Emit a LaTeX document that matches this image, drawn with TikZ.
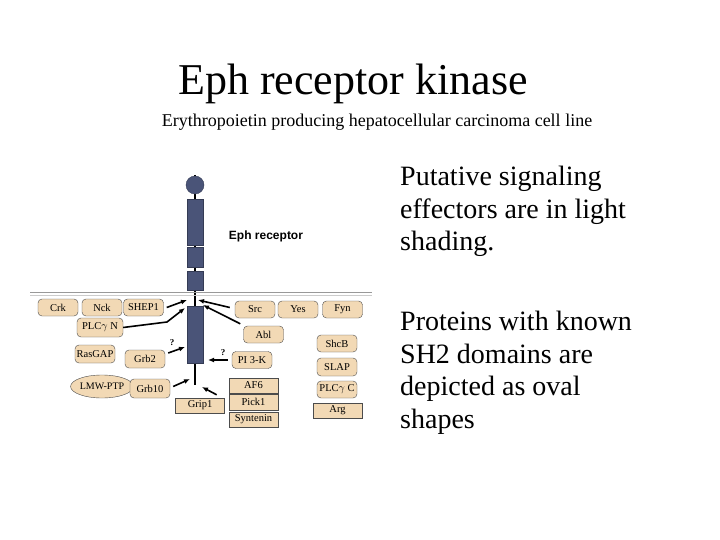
\documentclass[tikz,border=0pt]{standalone}
\usepackage{fontspec}
\setmainfont{Liberation Serif}
\newfontfamily\sansf{Liberation Sans}
\usetikzlibrary{shapes.geometric,arrows.meta}
\definecolor{tan}{HTML}{F2D9B5}
\definecolor{rec}{HTML}{4A5478}
\begin{document}
\begin{tikzpicture}[x=1pt,y=-1pt,
 bx/.style={draw=black!70,fill=tan,rounded corners=4pt,minimum width=40pt,minimum height=17pt,inner sep=0pt,font=\fontsize{10.5}{10.5}\selectfont},
 sq/.style={draw=black!70,fill=tan,minimum width=49pt,minimum height=15pt,inner sep=0pt,font=\fontsize{10.5}{10.5}\selectfont},
 ar/.style={line width=1.6pt,-{Latex[length=6pt,width=5pt]}},
 rp/.style={fill=rec,draw=rec!70!black}]
\useasboundingbox (0,0) rectangle (720,540);
\node[font=\fontsize{44}{46}\selectfont] (title) at (353,84) {Eph receptor kinase};
\node[font=\fontsize{18}{20}\selectfont] (sub) at (377,122) {Erythropoietin producing hepatocellular carcinoma cell line};
% receptor
\draw[line width=1.5pt] (195,175) -- (195,385);
\draw[rp] (195,185) circle (9);
\draw[rp] (187,199) rectangle (203,245);
\draw[rp] (187,247) rectangle (203,267);
\draw[rp] (187,271) rectangle (203,290);
\draw[rp] (187,306) rectangle (203,363);
\draw[black!40] (30,292) -- (372,292);
\draw[black!20] (30,295) -- (372,295);
\node[font=\sansf\bfseries\fontsize{12}{12}\selectfont] (eph) at (266,236) {Eph receptor};
\coordinate (c1) at (187,300); \coordinate (c2) at (185,308); \coordinate (c3) at (198,300);
\coordinate (c4) at (203,305); \coordinate (c5) at (185,347); \coordinate (c6) at (208,360);
\coordinate (c7) at (190,379); \coordinate (c8) at (202,387); \coordinate (k) at (167,322);
% boxes
\node[bx] (crk) at (58,307.5) {Crk};
\node[bx] (nck) at (102,307.5) {Nck};
\node[bx] (shep) at (143.5,307.5) {SHEP1};
\node[bx] (src) at (255,309.5) {Src};
\node[bx] (yes) at (298,309.5) {Yes};
\node[bx] (fyn) at (342.5,309.5) {Fyn};
\node[bx,minimum width=46pt,minimum height=19pt] (plcn) at (100,327.5) {PLC$\gamma$ N};
\node[bx] (abl) at (263.5,334.5) {Abl};
\node[bx,minimum height=18pt] (ras) at (95,354) {RasGAP};
\node[bx,minimum height=18pt] (grb2) at (145,359) {Grb2};
\node[bx] (pi3) at (252,360) {PI 3-K};
\node[bx] (shcb) at (337,343.5) {ShcB};
\node[bx,minimum height=18pt] (slap) at (337,367) {SLAP};
\node[bx] (plcc) at (337,389.5) {PLC$\gamma$ C};
\node[sq] (arg) at (337.5,410.5) {Arg};
\node[ellipse,draw=black!70,fill=tan,minimum width=50pt,minimum height=23pt,inner sep=0pt,font=\fontsize{10}{10}\selectfont] (lmw) at (102,386.5) {LMW-PTP};
\node[bx,minimum height=19pt] (grb10) at (150,388.5) {Grb10};
\node[sq] (af6) at (253.5,385.5) {AF6};
\node[sq,minimum height=16pt] (pick) at (253.5,402) {Pick1};
\node[sq] (syn) at (253.5,419.5) {Syntenin};
\node[sq] (grip) at (200,405.5) {Grip1};
% arrows
\draw[ar] (shep.east) ++(3,0) -- (c1);
\draw[ar] (plcn.east) -- (k) -- (c2);
\draw[ar] (src.west) ++(-5,-2) -- (c3);
\draw[ar] (abl.north west) ++(-3,-2) -- (c4);
\draw[ar] (grb2.east) ++(3,-6) -- (c5);
\draw[ar] (pi3.west) ++(-4,0) -- (c6);
\draw[ar] (grb10.east) ++(3,-2) -- (c7);
\draw[ar] (grip.north east) ++(-8,-3) -- (c8);
\node[font=\bfseries\fontsize{9}{9}\selectfont] (q1) at (172,343) {?};
\node[font=\bfseries\fontsize{9}{9}\selectfont] (q2) at (223,353) {?};
% right text
\node[anchor=north west,align=left,font=\fontsize{28}{32.5}\selectfont,inner sep=0pt] (t1) at (400,166) {Putative signaling\\effectors are in light\\shading.};
\node[anchor=north west,align=left,font=\fontsize{28}{32.5}\selectfont,inner sep=0pt] (t2) at (400,311) {Proteins with known\\SH2 domains are\\depicted as oval\\shapes};
\end{tikzpicture}
\end{document}
